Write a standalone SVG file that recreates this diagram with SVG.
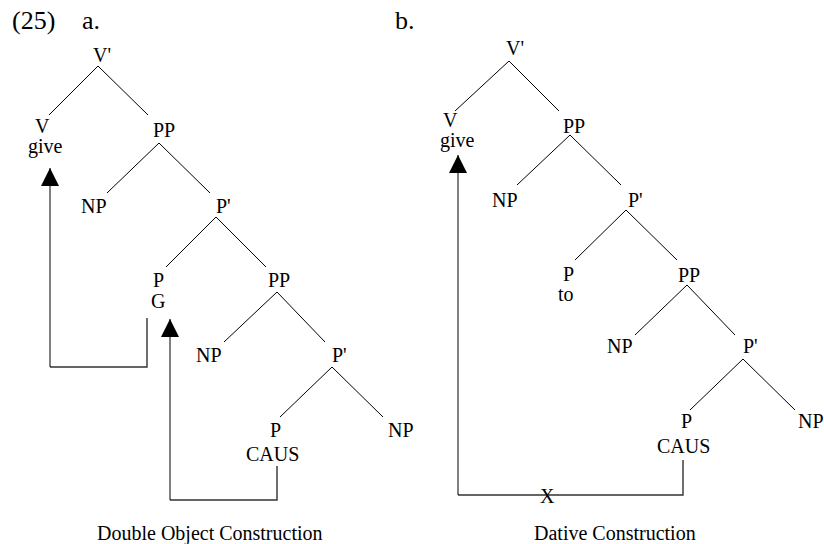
<svg xmlns="http://www.w3.org/2000/svg" width="824" height="544" viewBox="0 0 824 544">
<defs>
<marker id="ah" markerUnits="userSpaceOnUse" markerWidth="18" markerHeight="20" viewBox="0 0 18 20" refX="18" refY="9" orient="auto">
<path d="M0,0 L18,9 L0,18 Z" fill="#000"/>
</marker>
</defs>
<rect width="824" height="544" fill="#fff"/>
<text font-family="Liberation Serif" font-size="26" x="12" y="29">(25)</text>
<text font-family="Liberation Serif" font-size="26" x="82" y="29">a.</text>
<text font-family="Liberation Serif" font-size="26" x="395" y="29">b.</text>
<g id="edges" stroke="#000" stroke-width="1" fill="none">
<path d="M49,115 L98,66 L148,115"/>
<path d="M107,193 L159,143 L210,193"/>
<path d="M166,267 L216,217 L266,267"/>
<path d="M224,342 L277,292 L325,342"/>
<path d="M280,417 L332,367 L383,417"/>
<path d="M455,111 L509,61 L559,111"/>
<path d="M517,185 L570,135 L621,185"/>
<path d="M575,260 L626,210 L677,260"/>
<path d="M635,335 L687,285 L735,335"/>
<path d="M690,410 L743,359 L795,410"/>
</g>
<g id="connectors" fill="none">
<path stroke="#333" stroke-width="1.4" d="M147,318 L147,367 L50,367"/>
<path stroke="#000" stroke-width="1" d="M50,367 L50,168" marker-end="url(#ah)"/>
<path stroke="#333" stroke-width="1.4" d="M277,466 L277,500 L170,500"/>
<path stroke="#000" stroke-width="1" d="M170,500 L170,319" marker-end="url(#ah)"/>
<path stroke="#333" stroke-width="1.4" d="M683,460 L683,495 L458,495"/>
<path stroke="#000" stroke-width="1" d="M458,495 L458,155" marker-end="url(#ah)"/>
</g>
<g id="a-vbar"><text font-family="Liberation Serif" font-size="20" x="93" y="62">V'</text></g>
<g id="a-v"><text font-family="Liberation Serif" font-size="20" x="35" y="133">V</text><text font-family="Liberation Serif" font-size="20" x="28" y="153">give</text></g>
<g id="a-pp1"><text font-family="Liberation Serif" font-size="20" x="153" y="137">PP</text></g>
<g id="a-np1"><text font-family="Liberation Serif" font-size="20" x="81" y="213">NP</text></g>
<g id="a-pbar1"><text font-family="Liberation Serif" font-size="20" x="216" y="213">P'</text></g>
<g id="a-p1"><text font-family="Liberation Serif" font-size="20" x="153" y="287">P</text><text font-family="Liberation Serif" font-size="20" x="151" y="308">G</text></g>
<g id="a-pp2"><text font-family="Liberation Serif" font-size="20" x="268" y="287">PP</text></g>
<g id="a-np2"><text font-family="Liberation Serif" font-size="20" x="196" y="362">NP</text></g>
<g id="a-pbar2"><text font-family="Liberation Serif" font-size="20" x="332" y="362">P'</text></g>
<g id="a-p2"><text font-family="Liberation Serif" font-size="20" x="270" y="437">P</text><text font-family="Liberation Serif" font-size="20" x="246" y="461">CAUS</text></g>
<g id="a-np3"><text font-family="Liberation Serif" font-size="20" x="388" y="437">NP</text></g>
<text font-family="Liberation Serif" font-size="20" x="97" y="540">Double Object Construction</text>
<g id="b-vbar"><text font-family="Liberation Serif" font-size="20" x="506" y="55">V'</text></g>
<g id="b-v"><text font-family="Liberation Serif" font-size="20" x="443" y="127">V</text><text font-family="Liberation Serif" font-size="20" x="440" y="147">give</text></g>
<g id="b-pp1"><text font-family="Liberation Serif" font-size="20" x="563" y="133">PP</text></g>
<g id="b-np1"><text font-family="Liberation Serif" font-size="20" x="492" y="207">NP</text></g>
<g id="b-pbar1"><text font-family="Liberation Serif" font-size="20" x="628" y="207">P'</text></g>
<g id="b-p1"><text font-family="Liberation Serif" font-size="20" x="563" y="281">P</text><text font-family="Liberation Serif" font-size="20" x="558" y="301">to</text></g>
<g id="b-pp2"><text font-family="Liberation Serif" font-size="20" x="678" y="282">PP</text></g>
<g id="b-np2"><text font-family="Liberation Serif" font-size="20" x="607" y="353">NP</text></g>
<g id="b-pbar2"><text font-family="Liberation Serif" font-size="20" x="743" y="353">P'</text></g>
<g id="b-p2"><text font-family="Liberation Serif" font-size="20" x="681" y="428">P</text><text font-family="Liberation Serif" font-size="20" x="657" y="453">CAUS</text></g>
<g id="b-np3"><text font-family="Liberation Serif" font-size="20" x="798" y="428">NP</text></g>
<text font-family="Liberation Serif" font-size="20" x="540" y="503">X</text>
<text font-family="Liberation Serif" font-size="20" x="534" y="540">Dative Construction</text>
</svg>
